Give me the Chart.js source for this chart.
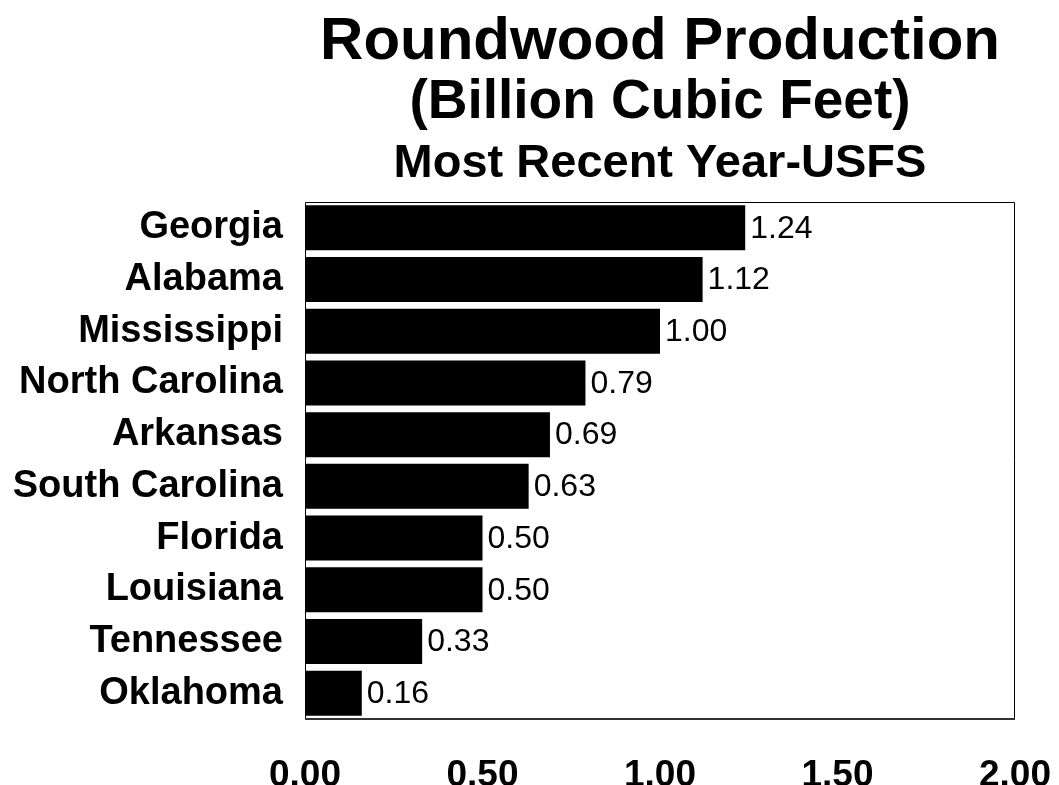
<!DOCTYPE html>
<html>
<head>
<meta charset="utf-8">
<script src="https://cdn.jsdelivr.net/npm/chart.js@4/dist/chart.umd.min.js"></script>
<style>
  html, body { margin: 0; padding: 0; background: #fff; }
  #wrap { width: 1059px; height: 785px; }
</style>
</head>
<body>
<div id="wrap"><canvas id="roundwoodChart" width="1059" height="785"></canvas></div>
<script>
// DATA
const states = ["Georgia", "Alabama", "Mississippi", "North Carolina", "Arkansas",
                "South Carolina", "Florida", "Louisiana", "Tennessee", "Oklahoma"];
const production = [1.24, 1.12, 1.00, 0.79, 0.69, 0.63, 0.50, 0.50, 0.33, 0.16];
const xTicks = [0, 0.5, 1.0, 1.5, 2.0];
const titleLines = ["Roundwood Production", "(Billion Cubic Feet)", "Most Recent Year-USFS"];

const FONT = '"Liberation Sans", Arial, sans-serif';

// titles centred over the plot area, plus box border and value labels
const decorations = {
    id: "decorations",
    afterDraw(chart) {
        const { ctx, chartArea } = chart;
        const cx = (chartArea.left + chartArea.right) / 2;
        ctx.save();
        ctx.fillStyle = "#000";
        ctx.textAlign = "center";
        ctx.textBaseline = "alphabetic";
        const sizes = [60, 55, 47];
        const baselines = [59, 118, 177];
        titleLines.forEach((t, i) => {
            ctx.font = `bold ${sizes[i]}px ${FONT}`;
            ctx.fillText(t, cx, baselines[i]);
        });

        // plot box
        ctx.strokeStyle = "#000";
        ctx.lineWidth = 1;
        ctx.beginPath();
        ctx.moveTo(chartArea.left + 0.5, chartArea.bottom);
        ctx.lineTo(chartArea.left + 0.5, chartArea.top + 0.5);
        ctx.lineTo(chartArea.right - 0.5, chartArea.top + 0.5);
        ctx.lineTo(chartArea.right - 0.5, chartArea.bottom);
        ctx.stroke();
        ctx.strokeStyle = "#333";
        ctx.lineWidth = 2;
        ctx.beginPath();
        ctx.moveTo(chartArea.left, chartArea.bottom);
        ctx.lineTo(chartArea.right, chartArea.bottom);
        ctx.stroke();

        // value labels
        ctx.font = `32px ${FONT}`;
        ctx.textAlign = "left";
        ctx.textBaseline = "middle";
        chart.getDatasetMeta(0).data.forEach((bar, i) => {
            ctx.fillText(production[i].toFixed(2), bar.x + 5, bar.y + 1);
        });
        ctx.restore();
    }
};

new Chart(document.getElementById("roundwoodChart"), {
    type: "bar",
    data: {
        labels: states,
        datasets: [{
            data: production,
            backgroundColor: "#000",
            borderWidth: 0,
            barPercentage: 0.87,
            categoryPercentage: 1.0
        }]
    },
    options: {
        indexAxis: "y",
        responsive: false,
        animation: false,
        layout: { padding: { top: 202, right: 44, left: 0, bottom: 0 } },
        plugins: { legend: { display: false }, tooltip: { enabled: false } },
        scales: {
            x: {
                min: 0,
                max: 2,
                afterBuildTicks: s => { s.ticks = xTicks.map(v => ({ value: v })); },
                afterFit: s => { s.height = 66; s.paddingLeft = 0; s.paddingRight = 0; },
                grid: { display: false, drawTicks: false },
                border: { display: false },
                ticks: {
                    padding: 35,
                    color: "#000",
                    font: { family: FONT, size: 37, weight: "bold" },
                    callback: v => Number(v).toFixed(2),
                    maxRotation: 0
                }
            },
            y: {
                afterFit: s => { s.width = 305; },
                grid: { display: false, drawTicks: false },
                border: { display: false },
                ticks: {
                    padding: 22,
                    color: "#000",
                    font: { family: FONT, size: 38, weight: "bold" }
                }
            }
        }
    },
    plugins: [decorations]
});
</script>
</body>
</html>
